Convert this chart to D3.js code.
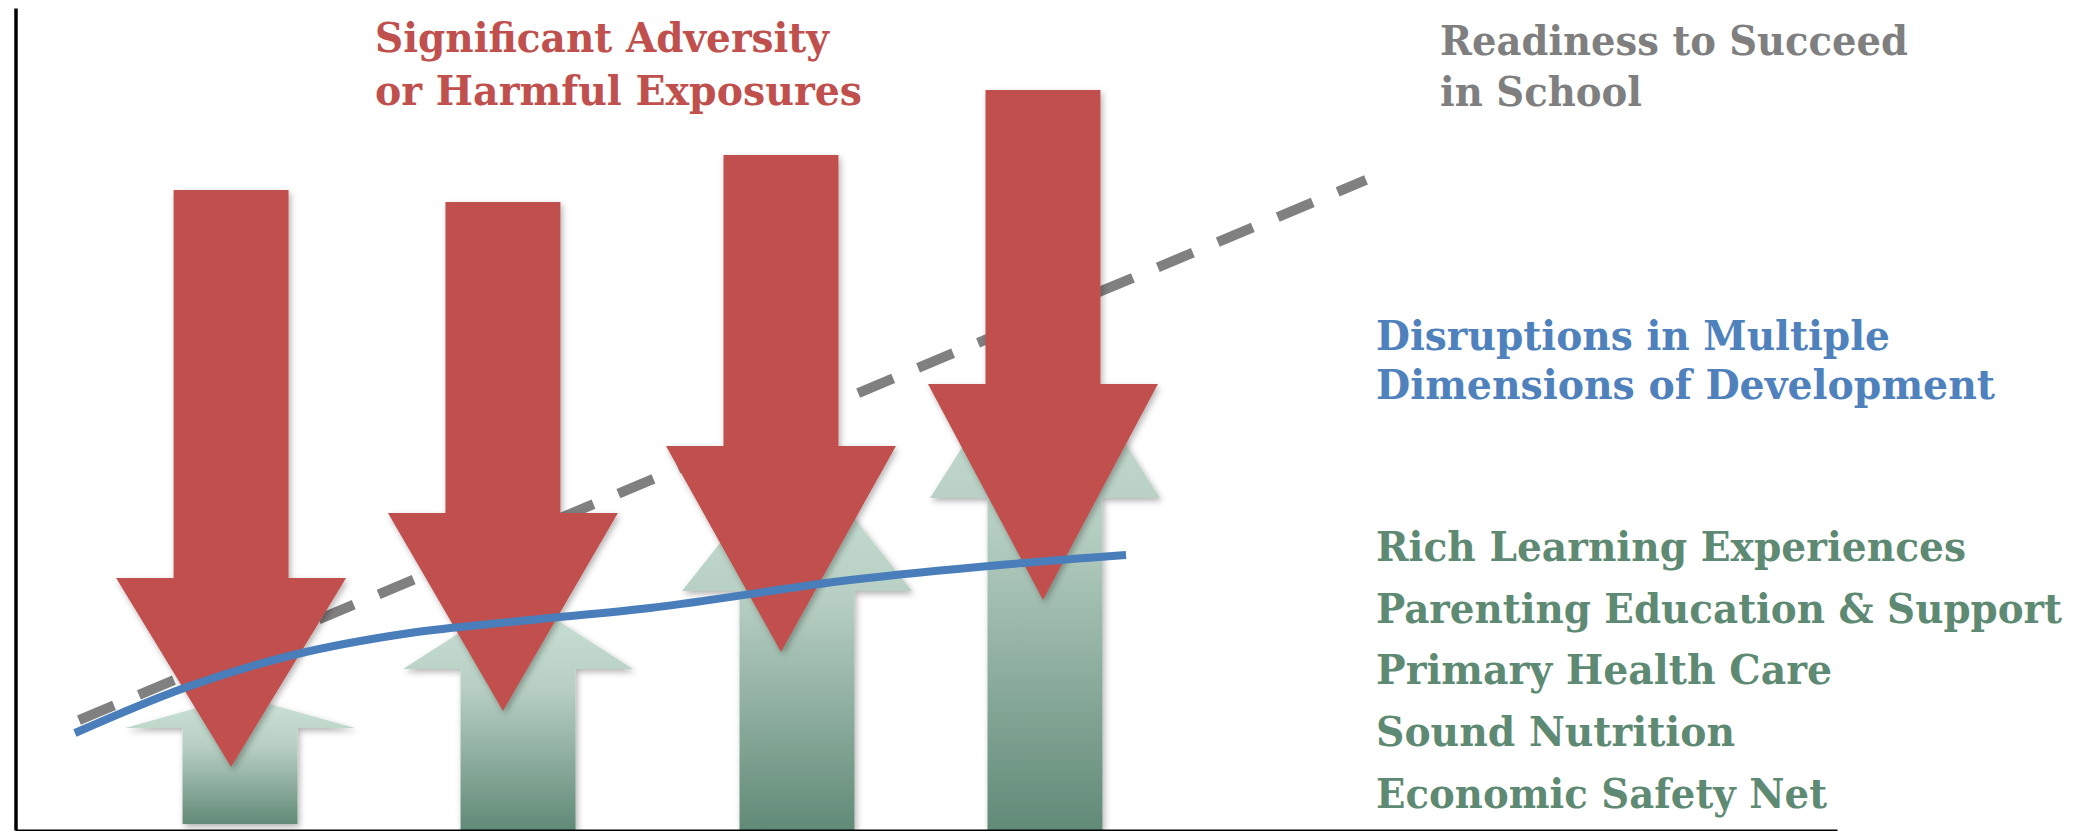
<!DOCTYPE html>
<html>
<head>
<meta charset="utf-8">
<script src="https://cdn.jsdelivr.net/npm/d3@7"></script>
<style>
  html, body { margin: 0; padding: 0; background: #fff; }
  svg { display: block; }
</style>
</head>
<body>
<div id="chart"></div>
<script>
// stages along the horizontal axis (x in 0-100 units)
var stages = ["Stage 1", "Stage 2", "Stage 3", "Stage 4"];

// red down arrows: adversity
var redX = [11.86, 26.78, 42.04, 56.42];
var redTop = [77.86, 76.40, 82.12, 90.02];
var redHeadBase = [30.66, 38.56, 46.72, 54.26];
var redTip = [7.66, 14.48, 21.65, 27.98];

// green up arrows: supports
var greenX = [12.35, 27.61, 42.92, 56.53];
var greenBottom = [0.73, 0, 0, 0];
var greenHeadBase = [12.41, 19.59, 29.08, 40.39];
var greenApex = [16.30, 28.59, 46.72, 62.41];

// blue curve: disruptions in development
var blueX = [3.29, 9.44, 15.26, 21.68, 27.72, 34.85, 45.83, 54.06, 60.98];
var blueY = [11.80, 17.40, 21.29, 23.97, 25.43, 27.01, 30.41, 32.24, 33.45];

// grey dashed line: readiness to succeed
var readyX = [3.51, 74.15];
var readyY = [13.38, 79.08];

// labels
var redLabel = ["Significant Adversity", "or Harmful Exposures"];
var greyLabel = ["Readiness to Succeed", "in School"];
var blueLabel = ["Disruptions in Multiple", "Dimensions of Development"];
var greenLabel = ["Rich Learning Experiences", "Parenting Education & Support",
  "Primary Health Care", "Sound Nutrition", "Economic Safety Net"];

var width = 2090, height = 831;
var shaftW = 6.31, headW = 12.62;

var svg = d3.select("#chart").append("svg")
  .attr("width", width)
  .attr("height", height);

var xScale = d3.scaleLinear().domain([0, 100]).range([15, 1837]);
var yScale = d3.scaleLinear().domain([0, 100]).range([830, 8]);

var defs = svg.append("defs");
var grad = defs.append("linearGradient")
  .attr("id", "greenGrad")
  .attr("x1", 0).attr("y1", 0).attr("x2", 0).attr("y2", 1);
grad.append("stop").attr("offset", "0%").attr("stop-color", "#cde3d8");
grad.append("stop").attr("offset", "40%").attr("stop-color", "#b7cfc3");
grad.append("stop").attr("offset", "100%").attr("stop-color", "#618a77");

var shadow = defs.append("filter").attr("id", "shadow")
  .attr("x", "-20%").attr("y", "-20%").attr("width", "140%").attr("height", "140%");
shadow.append("feDropShadow")
  .attr("dx", 2).attr("dy", 3).attr("stdDeviation", 3)
  .attr("flood-color", "#000").attr("flood-opacity", 0.3);

function half(w) { return (xScale(w) - xScale(0)) / 2; }

// green arrows
var greenData = stages.map(function (s, i) {
  return { x: greenX[i], bottom: greenBottom[i], base: greenHeadBase[i], apex: greenApex[i] };
});
svg.append("g").selectAll("path")
  .data(greenData)
  .enter().append("path")
  .attr("d", function (d) {
    var cx = xScale(d.x), s = half(shaftW), h = half(headW);
    var yb = yScale(d.bottom), yh = yScale(d.base), ya = yScale(d.apex);
    return "M" + (cx - s) + "," + yb + "L" + (cx - s) + "," + yh + "L" + (cx - h) + "," + yh +
      "L" + cx + "," + ya + "L" + (cx + h) + "," + yh + "L" + (cx + s) + "," + yh +
      "L" + (cx + s) + "," + yb + "Z";
  })
  .attr("fill", "url(#greenGrad)")
  .attr("filter", "url(#shadow)");

// dashed readiness line
var line = d3.line().x(function (d) { return xScale(d[0]); }).y(function (d) { return yScale(d[1]); });
svg.append("path")
  .datum(readyX.map(function (x, i) { return [x, readyY[i]]; }))
  .attr("d", line)
  .attr("fill", "none")
  .attr("stroke", "#808080")
  .attr("stroke-width", 10)
  .attr("stroke-dasharray", "38,27");

// red arrows
var redData = stages.map(function (s, i) {
  return { x: redX[i], top: redTop[i], base: redHeadBase[i], tip: redTip[i] };
});
svg.append("g").selectAll("path")
  .data(redData)
  .enter().append("path")
  .attr("d", function (d) {
    var cx = xScale(d.x), s = half(shaftW), h = half(headW);
    var yt = yScale(d.top), yh = yScale(d.base), yp = yScale(d.tip);
    return "M" + (cx - s) + "," + yt + "L" + (cx + s) + "," + yt + "L" + (cx + s) + "," + yh +
      "L" + (cx + h) + "," + yh + "L" + cx + "," + yp + "L" + (cx - h) + "," + yh +
      "L" + (cx - s) + "," + yh + "Z";
  })
  .attr("fill", "#c0504d")
  .attr("filter", "url(#shadow)");

// blue curve
var curve = d3.line()
  .x(function (d) { return xScale(d[0]); })
  .y(function (d) { return yScale(d[1]); })
  .curve(d3.curveMonotoneX);
svg.append("path")
  .datum(blueX.map(function (x, i) { return [x, blueY[i]]; }))
  .attr("d", curve)
  .attr("fill", "none")
  .attr("stroke", "#4a7ebb")
  .attr("stroke-width", 8);

// axes (plain lines, no ticks)
svg.append("g")
  .attr("transform", "translate(15.5,0)")
  .call(d3.axisLeft(yScale).ticks(0).tickSize(0).tickSizeOuter(0))
  .call(function (g) { g.select(".domain").attr("stroke", "#000").attr("stroke-width", 3.5); });
svg.append("g")
  .attr("transform", "translate(0,830)")
  .call(d3.axisBottom(xScale).ticks(0).tickSize(0).tickSizeOuter(0))
  .call(function (g) { g.select(".domain").attr("stroke", "#000").attr("stroke-width", 2); });

// labels
function addLabel(lines, x, y0, dy, color, widths) {
  svg.append("g").selectAll("text")
    .data(lines)
    .enter().append("text")
    .attr("x", x)
    .attr("y", function (d, i) { return y0 + i * dy; })
    .attr("fill", color)
    .attr("font-family", "'DejaVu Serif', serif")
    .attr("font-weight", "bold")
    .attr("font-size", "41px")
    .attr("textLength", function (d, i) { return widths[i]; })
    .attr("lengthAdjust", "spacingAndGlyphs")
    .text(function (d) { return d; });
}
addLabel(redLabel, 375, 52, 53, "#c0504d", [454, 487]);
addLabel(greyLabel, 1440, 55, 51, "#7f7f7f", [468, 202]);
addLabel(blueLabel, 1376, 350, 49, "#4f81bd", [514, 619]);
addLabel(greenLabel, 1376, 561, 61.7, "#5e8a73", [590, 686, 456, 359, 451]);
</script>
</body>
</html>
